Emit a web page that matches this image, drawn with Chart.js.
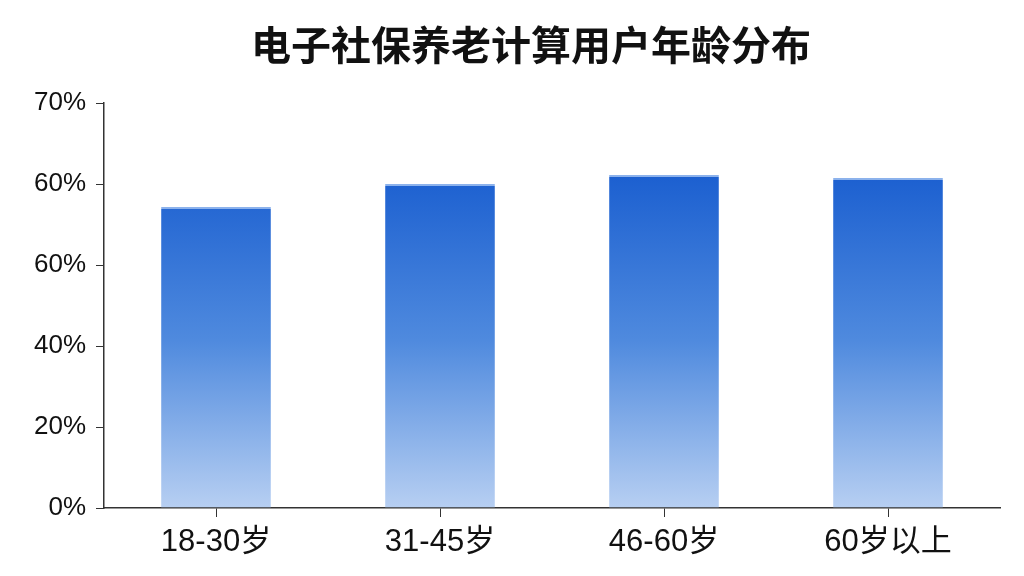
<!DOCTYPE html>
<html>
<head>
<meta charset="utf-8">
<script src="https://cdn.jsdelivr.net/npm/chart.js@4.4.1/dist/chart.umd.min.js"></script>
<style>
  html, body { margin: 0; padding: 0; background: #fff; }
  #wrap { width: 1024px; height: 576px; }
</style>
</head>
<body>
<div id="wrap"><canvas id="ageChart" width="1024" height="576"></canvas></div>
<script>
const titleText = "电子社保养老计算用户年龄分布";
const categories = ["18-30岁", "31-45岁", "46-60岁", "60岁以上"];
// values in axis units (0..100 spans the six drawn ticks)
const shares = [74.3, 80, 82.2, 81.5];
const tickLabels = ["0%", "20%", "40%", "60%", "60%", "70%"];

const fontFamily = "'Liberation Sans', Arial, 'Noto Sans CJK SC', sans-serif";

function barGradient(context) {
  const area = context.chart.chartArea;
  if (!area) return "#2f6fd6";
  const g = context.chart.ctx.createLinearGradient(0, area.top + 70, 0, area.bottom);
  g.addColorStop(0, "#1b5fd0");
  g.addColorStop(0.5, "#4f8ade");
  g.addColorStop(1, "#b7cff2");
  return g;
}

// title drawn by hand so it can sit off-centre like the original
const titlePlugin = {
  id: "manualTitle",
  afterDraw(chart) {
    const c = chart.ctx;
    c.save();
    c.font = "bold 40px 'Noto Sans CJK SC', sans-serif";
    c.fillStyle = "#111";
    c.textAlign = "center";
    c.textBaseline = "middle";
    c.fillText(titleText, 531, 45);
    c.restore();
  },
};

const ctx = document.getElementById("ageChart").getContext("2d");
new Chart(ctx, {
  type: "bar",
  data: {
    labels: categories,
    datasets: [
      {
        label: "用户占比",
        data: shares,
        backgroundColor: barGradient,
        borderColor: "#8cb2ec",
        borderWidth: { top: 2, left: 0, right: 0, bottom: 0 },
        borderSkipped: "bottom",
        categoryPercentage: 1,
        barPercentage: 0.49,
      },
    ],
  },
  plugins: [titlePlugin],
  options: {
    responsive: false,
    animation: false,
    layout: { padding: { left: 0, right: 24, top: 103, bottom: 0 } },
    plugins: {
      legend: { display: false },
      tooltip: { enabled: false },
      title: { display: false },
    },
    scales: {
      x: {
        grid: { offset: false, drawOnChartArea: false, drawTicks: true, tickLength: 9, color: "#333" },
        border: { display: true, color: "#333", width: 1.5 },
        ticks: {
          color: "#111",
          padding: 7,
          font: { family: fontFamily, size: 31 },
        },
        afterFit: (s) => { s.height = 68; },
      },
      y: {
        min: 0,
        max: 100,
        grid: { drawOnChartArea: false, drawTicks: true, tickLength: 8, color: "#333" },
        border: { display: true, color: "#333", width: 1.5 },
        ticks: {
          stepSize: 20,
          color: "#111",
          padding: 10,
          font: { family: fontFamily, size: 26 },
          callback: (v) => tickLabels[Math.round(v / 20)],
        },
        afterFit: (s) => { s.width = 104; },
      },
    },
  },
});
</script>
</body>
</html>
